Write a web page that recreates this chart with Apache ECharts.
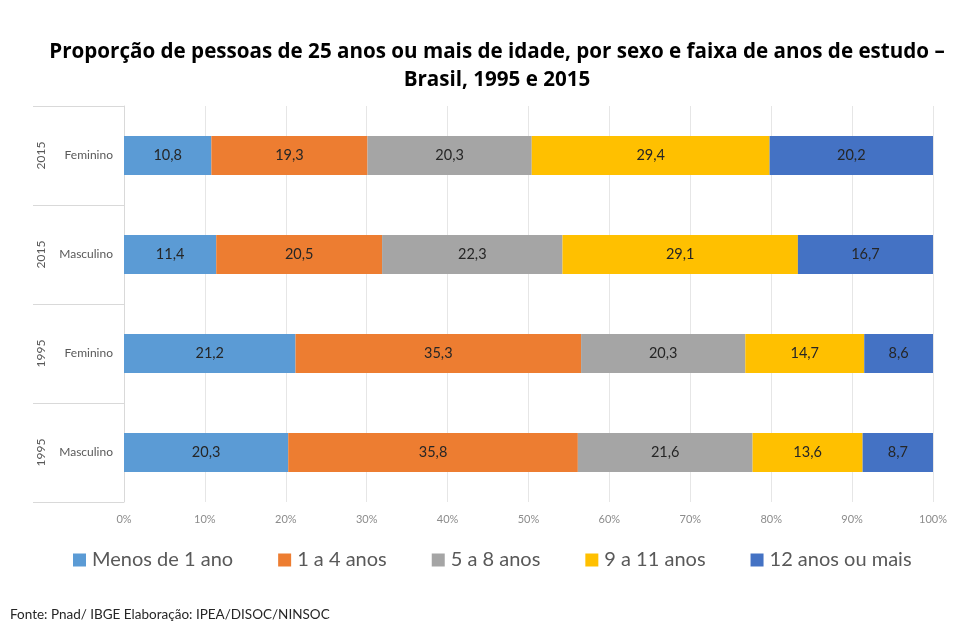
<!DOCTYPE html>
<html>
<head>
<meta charset="utf-8">
<script src="https://cdn.jsdelivr.net/npm/echarts@6/dist/echarts.min.js"></script>
<style>
  html, body { margin: 0; padding: 0; background: #fff; }
  #chart { width: 976px; height: 624px; }
</style>
</head>
<body>
<div id="chart"></div>
<script>
// categorias (de baixo para cima no eixo)
var sexos = ['Masculino', 'Feminino', 'Masculino', 'Feminino'];
var anos = ['1995', '1995', '2015', '2015'];
var faixas = ['Menos de 1 ano', '1 a 4 anos', '5 a 8 anos', '9 a 11 anos', '12 anos ou mais'];
var cores = ['#5B9BD5', '#ED7D31', '#A5A5A5', '#FFC000', '#4472C4'];

// valores (%) por faixa, mesma ordem das categorias
var menos1 = [20.3, 21.2, 11.4, 10.8];
var de1a4 = [35.8, 35.3, 20.5, 19.3];
var de5a8 = [21.6, 20.3, 22.3, 20.3];
var de9a11 = [13.6, 14.7, 29.1, 29.4];
var mais12 = [8.7, 8.6, 16.7, 20.2];

var valores = [menos1, de1a4, de5a8, de9a11, mais12];
var fonte = 'Lato, "Open Sans", sans-serif';

var chart = echarts.init(document.getElementById('chart'));

var series = [];
for (var i = 0; i < faixas.length; i++) {
    series.push({
        name: faixas[i],
        type: 'bar',
        stack: 'total',
        barWidth: 39,
        itemStyle: {color: cores[i]},
        label: {
            show: true,
            position: 'inside',
            color: '#262626',
            fontFamily: fonte,
            fontSize: 14.5,
            formatter: function (p) {
                return p.value.toFixed(1).replace('.', ',');
            }
        },
        data: valores[i]
    });
}

var option = {
    backgroundColor: '#fff',
    animation: false,
    color: cores,
    title: {
        text: 'Proporção de pessoas de 25 anos ou mais de idade, por sexo e faixa de anos de estudo –\nBrasil, 1995 e 2015',
        left: 492,
        top: 33,
        textAlign: 'center',
        textStyle: {
            fontFamily: '"Open Sans", sans-serif',
            fontWeight: 'bold',
            fontSize: 20.6,
            lineHeight: 28,
            color: '#000'
        }
    },
    legend: {
        data: faixas,
        left: 73,
        top: 550,
        padding: 0,
        itemWidth: 13,
        itemHeight: 13,
        itemGap: 45,
        icon: 'rect',
        textStyle: {fontFamily: fonte, fontSize: 20, color: '#595959', padding: [0, 0, 0, 1]}
    },
    grid: {left: 124, right: 43, top: 106, bottom: 122},
    xAxis: {
        type: 'value',
        min: 0,
        max: 100,
        interval: 10,
        axisLine: {show: false},
        axisTick: {show: false},
        splitLine: {lineStyle: {color: '#e6e6e6', width: 1}},
        axisLabel: {
            formatter: '{value}%',
            color: '#8c8c8c',
            fontFamily: fonte,
            fontSize: 11,
            margin: 12
        }
    },
    yAxis: [{
        type: 'category',
        data: sexos,
        axisLine: {show: true, lineStyle: {color: '#d9d9d9'}},
        axisTick: {show: false},
        axisLabel: {color: '#595959', fontFamily: fonte, fontSize: 12, margin: 11}
    }, {
        type: 'category',
        position: 'left',
        data: anos,
        axisLine: {show: false},
        axisTick: {show: true, length: 91, lineStyle: {color: '#d9d9d9'}},
        axisLabel: {
            rotate: 90,
            align: 'center',
            verticalAlign: 'middle',
            margin: 83,
            color: '#595959',
            fontFamily: fonte,
            fontSize: 12
        }
    }],
    graphic: [{
        type: 'text',
        left: 10,
        top: 608,
        style: {
            text: 'Fonte: Pnad/ IBGE Elaboração: IPEA/DISOC/NINSOC',
            fill: '#262626',
            font: '13.5px ' + fonte
        }
    }],
    series: series
};

chart.setOption(option);
</script>
</body>
</html>
